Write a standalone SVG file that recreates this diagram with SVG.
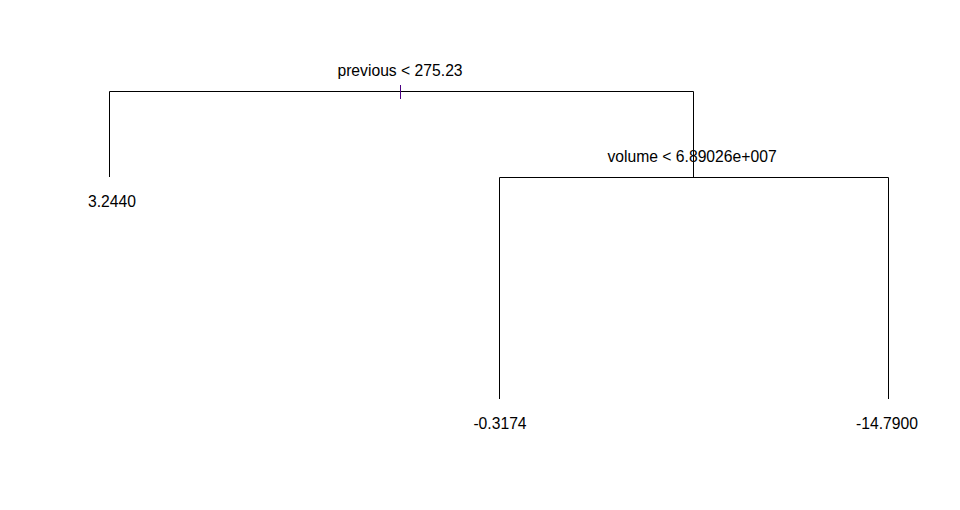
<svg xmlns="http://www.w3.org/2000/svg" width="960" height="510" viewBox="0 0 960 510">
<style>
.e{stroke:#000;stroke-width:1;fill:none}
text{font-family:"Liberation Sans",Arial,sans-serif;font-size:15.7px;fill:#000;text-anchor:middle}
</style>
<rect width="960" height="510" fill="#fff"/>
<g id="connectors">
<path class="e" d="M109.5,177 V91.5 H693.5 V177.5"/>
<path class="e" d="M499.5,399 V177.5 H888.5 V399"/>
<line x1="400.5" y1="85" x2="400.5" y2="99" stroke="#4b0082" stroke-width="1"/>
</g>
<g id="node-root"><text x="400" y="76">previous &lt; 275.23</text></g>
<g id="node-left"><text x="112" y="207">3.2440</text></g>
<g id="node-split2"><text x="692" y="162">volume &lt; 6.89026e+007</text></g>
<g id="node-ll"><text x="500" y="429">-0.3174</text></g>
<g id="node-rr"><text x="887" y="429">-14.7900</text></g>
</svg>
